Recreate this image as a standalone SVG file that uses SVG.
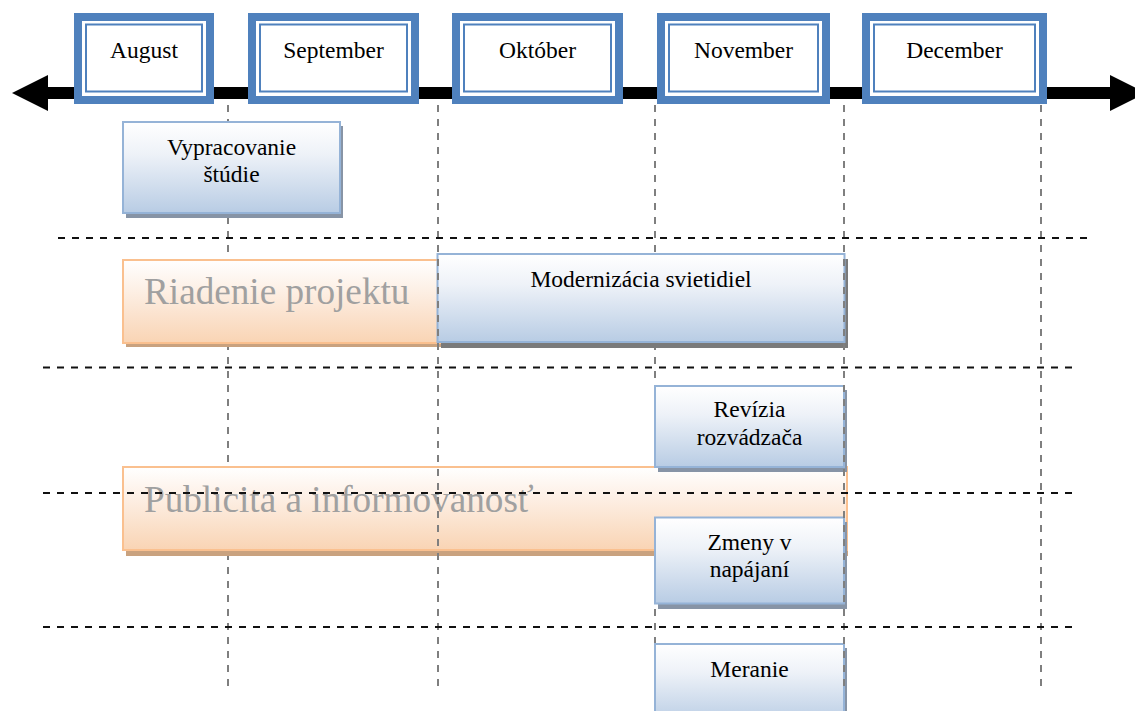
<svg xmlns="http://www.w3.org/2000/svg" width="1135" height="711" viewBox="0 0 1135 711">
<defs>
<linearGradient id="gBlue" x1="0" y1="0" x2="0" y2="1">
<stop offset="0" stop-color="#ffffff"/>
<stop offset="0.35" stop-color="#eef2f8"/>
<stop offset="1" stop-color="#b8cce4"/>
</linearGradient>
<linearGradient id="gOrange" x1="0" y1="0" x2="0" y2="1">
<stop offset="0" stop-color="#ffffff"/>
<stop offset="0.35" stop-color="#fdf0e6"/>
<stop offset="1" stop-color="#f9d4b4"/>
</linearGradient>
<style>
.month-outer{fill:#4f81bd;}
.month-inner{fill:#ffffff;stroke:#4f81bd;stroke-width:2;}
.month-white{fill:#ffffff;}
.t{font-family:"Liberation Serif","Times New Roman",serif;font-size:23.5px;fill:#000;text-anchor:middle;}
.big{font-family:"Liberation Serif","Times New Roman",serif;font-size:37.2px;fill:#a0a0a0;}
.blue{fill:url(#gBlue);stroke:#95b3d7;stroke-width:2;}
.orange{fill:url(#gOrange);stroke:#fac08f;stroke-width:2;}
.bshadow{fill:#8794a6;}
.dshadow{fill:#7a7a7a;}
.oshadow{fill:#c9a27f;}
.vgrid{stroke:#7f7f7f;stroke-width:2;stroke-dasharray:7 7;fill:none;}
.hgrid{stroke:#111;stroke-width:2;stroke-dasharray:7 7;fill:none;}
</style>
</defs>

<g id="timeline">
<rect x="46" y="87" width="1066" height="12" fill="#000"/>
<polygon points="48,75 12,93 48,111" fill="#000"/>
<polygon points="1110,75 1146,93 1110,111" fill="#000"/>
</g>

<g id="grid-back">
<line class="vgrid" x1="228" y1="105" x2="228" y2="690"/>
<line class="vgrid" x1="655" y1="105" x2="655" y2="690"/>
<line class="vgrid" x1="1041" y1="105" x2="1041" y2="690"/>
</g>

<g id="month-august">
<rect class="month-outer" x="74" y="13" width="140" height="91"/>
<rect class="month-white" x="82" y="21" width="124" height="75"/>
<rect class="month-inner" x="86" y="24.5" width="116" height="67"/>
<text class="t" x="144" y="58">August</text>
</g>
<g id="month-september">
<rect class="month-outer" x="248" y="13" width="171" height="91"/>
<rect class="month-white" x="256" y="21" width="155" height="75"/>
<rect class="month-inner" x="260" y="24.5" width="147" height="67"/>
<text class="t" x="333.5" y="58">September</text>
</g>
<g id="month-oktober">
<rect class="month-outer" x="452" y="13" width="171" height="91"/>
<rect class="month-white" x="460" y="21" width="155" height="75"/>
<rect class="month-inner" x="464" y="24.5" width="147" height="67"/>
<text class="t" x="537.5" y="58">Október</text>
</g>
<g id="month-november">
<rect class="month-outer" x="657" y="13" width="173" height="91"/>
<rect class="month-white" x="665" y="21" width="157" height="75"/>
<rect class="month-inner" x="669" y="24.5" width="149" height="67"/>
<text class="t" x="743.5" y="58">November</text>
</g>
<g id="month-december">
<rect class="month-outer" x="862" y="13" width="185" height="91"/>
<rect class="month-white" x="870" y="21" width="169" height="75"/>
<rect class="month-inner" x="874" y="24.5" width="161" height="67"/>
<text class="t" x="954.5" y="58">December</text>
</g>

<g id="task-vypracovanie">
<rect class="bshadow" x="126" y="126" width="217" height="92"/>
<rect class="blue" x="123" y="122" width="217" height="91"/>
<text class="t" x="231.5" y="155">Vypracovanie</text>
<text class="t" x="231.5" y="182">štúdie</text>
</g>

<g id="task-riadenie">
<rect class="oshadow" x="126" y="264" width="320" height="83"/>
<rect class="orange" x="123" y="260" width="320" height="83"/>
<text class="big" x="144" y="304">Riadenie projektu</text>
</g>

<g id="task-modernizacia">
<rect class="dshadow" x="441" y="259" width="407" height="89"/>
<rect class="blue" x="437.5" y="254" width="407" height="88"/>
<text class="t" x="641" y="286.5">Modernizácia svietidiel</text>
</g>

<g id="task-publicita">
<rect class="oshadow" x="126" y="471" width="722" height="85"/>
<rect class="orange" x="123" y="467" width="724" height="83"/>
<text class="big" x="144" y="511.5">Publicita a informovanosť</text>
</g>

<g id="task-revizia">
<rect class="bshadow" x="658" y="390" width="189" height="82"/>
<rect class="blue" x="655" y="386" width="189" height="81"/>
<text class="t" x="749.5" y="416.5">Revízia</text>
<text class="t" x="749.5" y="445">rozvádzača</text>
</g>

<g id="task-zmeny">
<rect class="bshadow" x="658" y="522" width="189" height="87"/>
<rect class="blue" x="655" y="517.5" width="189" height="86"/>
<text class="t" x="749.5" y="550">Zmeny v</text>
<text class="t" x="749.5" y="577">napájaní</text>
</g>

<g id="task-meranie">
<rect class="bshadow" x="658" y="648" width="189" height="80"/>
<rect class="blue" x="655" y="644" width="189" height="80"/>
<text class="t" x="749.5" y="677">Meranie</text>
</g>

<g id="connectors">
<line class="vgrid" x1="438" y1="105" x2="438" y2="690"/>
<line class="vgrid" x1="844" y1="105" x2="844" y2="690"/>
<line class="hgrid" x1="58" y1="238" x2="1088" y2="238"/>
<line class="hgrid" x1="43" y1="367.5" x2="1073" y2="367.5"/>
<line class="hgrid" x1="43" y1="493" x2="1073" y2="493"/>
<line class="hgrid" x1="43" y1="627" x2="1073" y2="627"/>
</g>
</svg>
